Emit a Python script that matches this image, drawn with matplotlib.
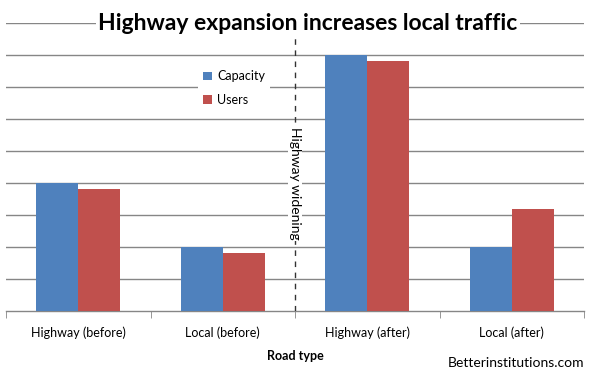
import matplotlib
matplotlib.use("Agg")
from matplotlib import pyplot as plt
import numpy as np

plt.rcParams['font.family'] = ['Lato', 'DejaVu Sans']

categories = ["Highway (before)", "Local (before)", "Highway (after)", "Local (after)"]
capacity = [4, 2, 8, 2]
users = [3.8, 1.8, 7.8, 3.2]

blue = "#4F81BD"
red = "#C0504D"
grey = "#868686"

fig = plt.figure(figsize=(5.9, 3.74), dpi=100)
ax = fig.add_axes([6/590, 1-311/374, 578/590, 288/374])

x = np.arange(len(categories))
w = 0.29
ax.bar(x - w/2, capacity, w, color=blue, label="Capacity", zorder=3)
ax.bar(x + w/2, users, w, color=red, label="Users", zorder=3)

ax.set_xlim(-0.5, 3.5)
ax.set_ylim(0, 9)
ax.set_yticks(np.arange(1, 10))
ax.set_yticklabels([])
ax.tick_params(axis='y', length=0)
ax.grid(axis='y', color=grey, linewidth=1, zorder=0)

for s in ["left", "right", "top"]:
    ax.spines[s].set_visible(False)
ax.spines["bottom"].set_color(grey)
ax.spines["bottom"].set_linewidth(1)

ax.set_xticks(x)
ax.set_xticklabels(categories, fontsize=9)
ax.set_xticks(np.arange(-0.5, 4, 1), minor=True)
ax.tick_params(axis='x', which='major', length=0, pad=11)
ax.tick_params(axis='x', which='minor', length=5, color=grey, direction='out')
ax.set_xlabel("Road type", fontsize=9, fontweight='bold', labelpad=8)

# dashed divider
ax.axvline(1.5, color="#333333", linestyle=(0, (4, 4)), linewidth=1, zorder=4)
ax.text(1.5, 4.0, "Highway widening", rotation=270, ha='center', va='center',
        fontsize=10, zorder=5, bbox=dict(facecolor='white', edgecolor='none', pad=1))

# title sits on the top gridline
ax.text(1.59, 9, "Highway expansion increases local traffic", ha='center', va='center',
        fontsize=16.5, fontweight='bold', zorder=5,
        bbox=dict(facecolor='white', edgecolor='none', pad=2), clip_on=False)

leg = ax.legend(loc='upper left', bbox_to_anchor=(186/578, 1 - 36/288), frameon=True,
                fontsize=9, handlelength=0.7, handleheight=0.7, labelspacing=0.9,
                borderpad=0.4, handletextpad=0.4)
leg.get_frame().set_edgecolor('none')
leg.get_frame().set_facecolor('white')
leg.get_frame().set_alpha(1)
leg.set_zorder(6)

fig.text(584/590, 1-363/374, "Betterinstitutions.com", ha='right', va='center', fontsize=10)

plt.savefig("out.png", dpi=100)
